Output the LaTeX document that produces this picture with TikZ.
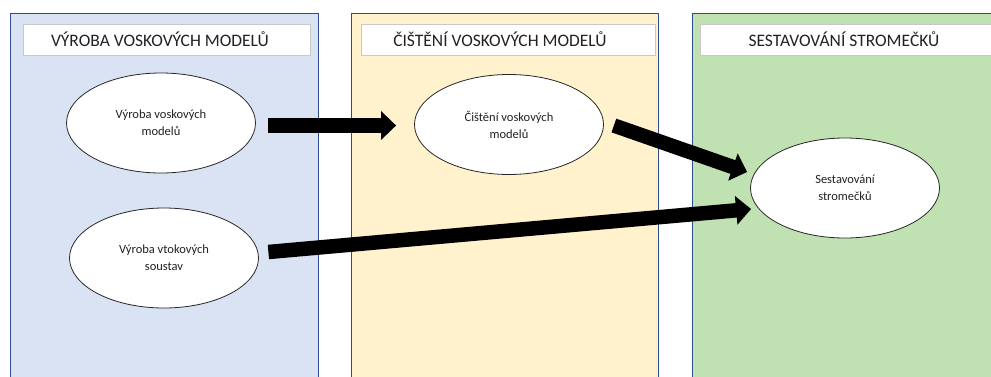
\documentclass[tikz,border=0pt]{standalone}
\usepackage{fontspec}
\setmainfont{Carlito}
\usetikzlibrary{shapes.geometric,arrows.meta}
\definecolor{laneblue}{HTML}{DAE3F3}
\definecolor{laneyellow}{HTML}{FFF2CC}
\definecolor{lanegreen}{HTML}{C0E2B2}
\definecolor{laneedge}{HTML}{2F4C8C}
\definecolor{titleedge}{HTML}{C8C8C8}
\definecolor{inktext}{HTML}{222222}
\tikzset{
  lane/.style={draw=laneedge, line width=0.8pt},
  lanetitle/.style={draw=titleedge, fill=white, line width=0.9pt},
  titletext/.style={font=\fontsize{17.5}{20}\selectfont, text=inktext, inner sep=0pt},
  stepbox/.style={ellipse, draw=black!85, fill=white, line width=0.8pt,
    minimum width=189pt, minimum height=100pt, inner sep=0pt, align=center,
    text=inktext, font=\fontsize{12.5}{17}\selectfont},
  blockarrow/.style={line width=14.5pt, black,
    -{Triangle[length=15pt, width=28pt]}},
}
\begin{document}
\begin{tikzpicture}[x=1pt, y=1pt]
  \useasboundingbox (0,0) rectangle (991,376);
  \begin{scope}
    \clip (0,0) rectangle (991,376);
    % swimlanes
    \fill[laneblue]   (10,-10) rectangle (318,363);
    \fill[laneyellow] (351,-10) rectangle (658,363);
    \fill[lanegreen]  (692,-10) rectangle (1005,363);
    \draw[lane] (10,-10) -- (10,363) -- (318,363) -- (318,-10);
    \draw[lane] (351,-10) -- (351,363) -- (658,363) -- (658,-10);
    \draw[lane] (692,-10) -- (692,363) -- (1005,363);
    % lane headers
    \draw[lanetitle] (23,321) rectangle (310,352);
    \draw[lanetitle] (361,321) rectangle (655,352);
    \draw[lanetitle] (700,321) rectangle (1005,352);
  \end{scope}
  \node[titletext] (t1) at (160,336.5) {VÝROBA VOSKOVÝCH MODELŮ};
  \node[titletext] (t2) at (500,336.5) {ČIŠTĚNÍ VOSKOVÝCH MODELŮ};
  \node[titletext] (t3) at (844,336.5) {SESTAVOVÁNÍ STROMEČKŮ};
  % process steps
  \node[stepbox] (e1) at (161,253)   {Výroba voskových\\modelů};
  \node[stepbox] (e2) at (164,118)   {Výroba vtokových\\soustav};
  \node[stepbox] (e3) at (509,251.5) {Čištění voskových\\modelů};
  \node[stepbox] (e4) at (845,188)   {Sestavování\\stromečků};
  % flow
  \draw[blockarrow] ([xshift=12.5pt,yshift=-2.5pt]e1.east) -- ([xshift=-18pt,yshift=-1pt]e3.west);
  \draw[blockarrow] ([xshift=10pt,yshift=-1pt]e3.east) -- ([xshift=-3pt,yshift=16pt]e4.west);
  \draw[blockarrow] ([xshift=9.5pt,yshift=6pt]e2.east) -- ([xshift=1pt,yshift=-21pt]e4.west);
\end{tikzpicture}
\end{document}
